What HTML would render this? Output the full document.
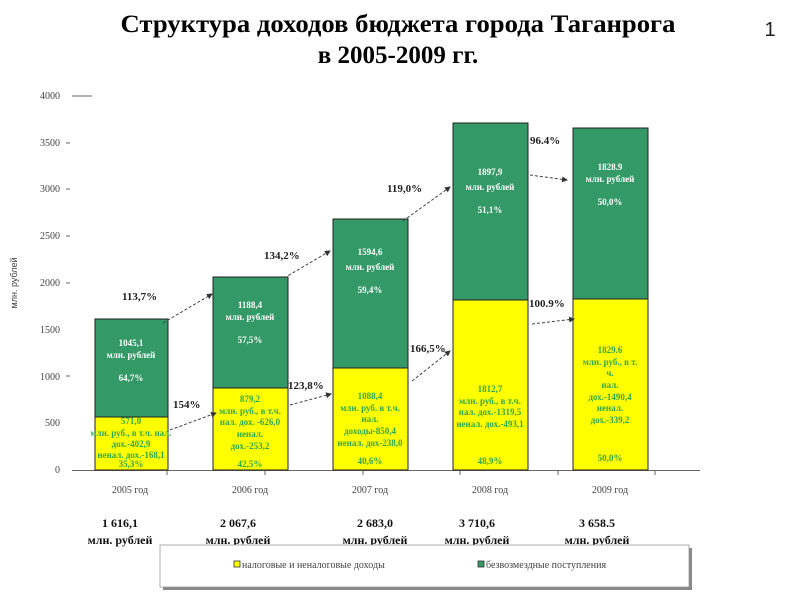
<!DOCTYPE html>
<html><head><meta charset="utf-8"><style>
body{margin:0;background:#fff;}
svg{display:block;font-family:"Liberation Serif",serif;}
.g{fill:#fff;font-weight:bold;font-size:9px;text-anchor:middle;}
.y{fill:#2fa84f;font-weight:bold;font-size:9px;text-anchor:middle;}
.p{fill:#222;font-weight:bold;font-size:11px;}
.ax{fill:#444;font-size:10px;text-anchor:end;}
.cat{fill:#444;font-size:10px;text-anchor:middle;}
.tot{fill:#111;font-weight:bold;font-size:12px;text-anchor:middle;}
</style></head><body>
<svg width="800" height="600" viewBox="0 0 800 600">
<text x="398" y="32" font-size="25" font-weight="bold" text-anchor="middle" textLength="555" lengthAdjust="spacingAndGlyphs">Структура доходов бюджета города Таганрога</text>
<text x="398" y="63" font-size="25" font-weight="bold" text-anchor="middle">в 2005-2009 гг.</text>
<text x="770" y="36" font-size="20" font-family="Liberation Sans,sans-serif" fill="#222" text-anchor="middle">1</text>

<g class="ax">
<text x="60" y="99">4000</text><text x="60" y="146">3500</text><text x="60" y="192">3000</text>
<text x="60" y="239">2500</text><text x="60" y="286">2000</text><text x="60" y="333">1500</text>
<text x="60" y="380">1000</text><text x="60" y="426">500</text><text x="60" y="473">0</text>
</g>
<g stroke="#666" stroke-width="1">
<line x1="66" y1="143" x2="70" y2="143"/><line x1="66" y1="189" x2="70" y2="189"/><line x1="66" y1="236" x2="70" y2="236"/><line x1="66" y1="283" x2="70" y2="283"/><line x1="66" y1="376" x2="70" y2="376"/>
<line x1="72" y1="96" x2="92" y2="96"/>
<line x1="72" y1="470.5" x2="700" y2="470.5"/>
<line x1="167" y1="470" x2="167" y2="475"/><line x1="265" y1="470" x2="265" y2="475"/><line x1="363" y1="470" x2="363" y2="475"/><line x1="460" y1="470" x2="460" y2="475"/><line x1="558" y1="470" x2="558" y2="475"/><line x1="655" y1="470" x2="655" y2="475"/>
</g>
<text x="0" y="0" font-size="9" fill="#444" font-family="Liberation Sans,sans-serif" text-anchor="middle" transform="translate(17,283) rotate(-90)">млн. рублей</text>

<g stroke="#222" stroke-width="1">
<rect x="95" y="319" width="73" height="98" fill="#339966"/><rect x="95" y="417" width="73" height="53" fill="#ffff00"/>
<rect x="213" y="277" width="75" height="111" fill="#339966"/><rect x="213" y="388" width="75" height="82" fill="#ffff00"/>
<rect x="333" y="219" width="75" height="149" fill="#339966"/><rect x="333" y="368" width="75" height="102" fill="#ffff00"/>
<rect x="453" y="123" width="75" height="177" fill="#339966"/><rect x="453" y="300" width="75" height="170" fill="#ffff00"/>
<rect x="573" y="128" width="75" height="171" fill="#339966"/><rect x="573" y="299" width="75" height="171" fill="#ffff00"/>
</g>

<g class="g">
<text x="131" y="346">1045,1</text><text x="131" y="358">млн. рублей</text><text x="131" y="381">64,7%</text>
<text x="250" y="308">1188,4</text><text x="250" y="320">млн. рублей</text><text x="250" y="343">57,5%</text>
<text x="370" y="255">1594,6</text><text x="370" y="270">млн. рублей</text><text x="370" y="293">59,4%</text>
<text x="490" y="175">1897,9</text><text x="490" y="190">млн. рублей</text><text x="490" y="213">51,1%</text>
<text x="610" y="170">1828.9</text><text x="610" y="182">млн. рублей</text><text x="610" y="205">50,0%</text>
</g>
<g class="y">
<text x="131" y="424">571,0</text><text x="131" y="436">млн. руб., в т.ч. нал.</text><text x="131" y="447">дох.-402,9</text><text x="131" y="458">ненал. дох.-168,1</text><text x="131" y="467">35,3%</text>
<text x="250" y="402">879,2</text><text x="250" y="414">млн. руб., в т.ч.</text><text x="250" y="425">нал. дох. -626,0</text><text x="250" y="437">ненал.</text><text x="250" y="449">дох.-253,2</text><text x="250" y="467">42,5%</text>
<text x="370" y="399">1088,4</text><text x="370" y="411">млн. руб. в т.ч.</text><text x="370" y="422">нал.</text><text x="370" y="434">доходы-850,4</text><text x="370" y="446">ненал. дох-238,0</text><text x="370" y="464">40,6%</text>
<text x="490" y="392">1812,7</text><text x="490" y="404">млн. руб., в т.ч.</text><text x="490" y="415">нал. дох.-1319,5</text><text x="490" y="427">ненал. дох.-493,1</text><text x="490" y="464">48,9%</text>
<text x="610" y="353">1829.6</text><text x="610" y="365">млн. руб., в т.</text><text x="610" y="376">ч.</text><text x="610" y="388">нал.</text><text x="610" y="400">дох.-1490,4</text><text x="610" y="411">ненал.</text><text x="610" y="423">дох.-339,2</text><text x="610" y="461">50,0%</text>
</g>

<defs><marker id="a" markerWidth="6" markerHeight="6" refX="5" refY="3" orient="auto"><path d="M0,0 L6,3 L0,6 z" fill="#333"/></marker></defs>
<g stroke="#444" stroke-width="1" stroke-dasharray="3,2" fill="none" marker-end="url(#a)">
<line x1="163" y1="323" x2="212" y2="294"/>
<line x1="284" y1="278" x2="330" y2="251"/>
<line x1="403" y1="221" x2="450" y2="187"/>
<line x1="530" y1="175" x2="567" y2="180"/>
<line x1="170" y1="430" x2="216" y2="413"/>
<line x1="290" y1="405" x2="331" y2="394"/>
<line x1="412" y1="381" x2="450" y2="351"/>
<line x1="532" y1="324" x2="574" y2="319"/>
</g>
<g class="p">
<text x="122" y="300">113,7%</text><text x="264" y="259">134,2%</text><text x="387" y="192">119,0%</text><text x="530" y="144">96.4%</text>
<text x="173" y="408">154%</text><text x="288" y="389">123,8%</text><text x="410" y="352">166,5%</text><text x="529" y="307">100.9%</text>
</g>

<g class="cat">
<text x="130" y="493">2005 год</text><text x="250" y="493">2006 год</text><text x="370" y="493">2007 год</text><text x="490" y="493">2008 год</text><text x="610" y="493">2009 год</text>
</g>
<g class="tot">
<text x="120" y="527">1 616,1</text><text x="120" y="544">млн. рублей</text>
<text x="238" y="527">2 067,6</text><text x="238" y="544">млн. рублей</text>
<text x="375" y="527">2 683,0</text><text x="375" y="544">млн. рублей</text>
<text x="477" y="527">3 710,6</text><text x="477" y="544">млн. рублей</text>
<text x="597" y="527">3 658.5</text><text x="597" y="544">млн. рублей</text>
</g>

<rect x="163" y="548" width="529" height="42" fill="#888"/>
<rect x="160" y="545" width="529" height="42" fill="#fff" stroke="#999" stroke-width="0.8"/>
<rect x="234" y="561" width="6" height="6" fill="#ffff00" stroke="#333" stroke-width="0.8"/>
<text x="242" y="568" font-size="10" fill="#444">налоговые и неналоговые доходы</text>
<rect x="478" y="561" width="6" height="6" fill="#339966" stroke="#333" stroke-width="0.8"/>
<text x="486" y="568" font-size="10" fill="#444">безвозмездные поступления</text>
</svg>
</body></html>
